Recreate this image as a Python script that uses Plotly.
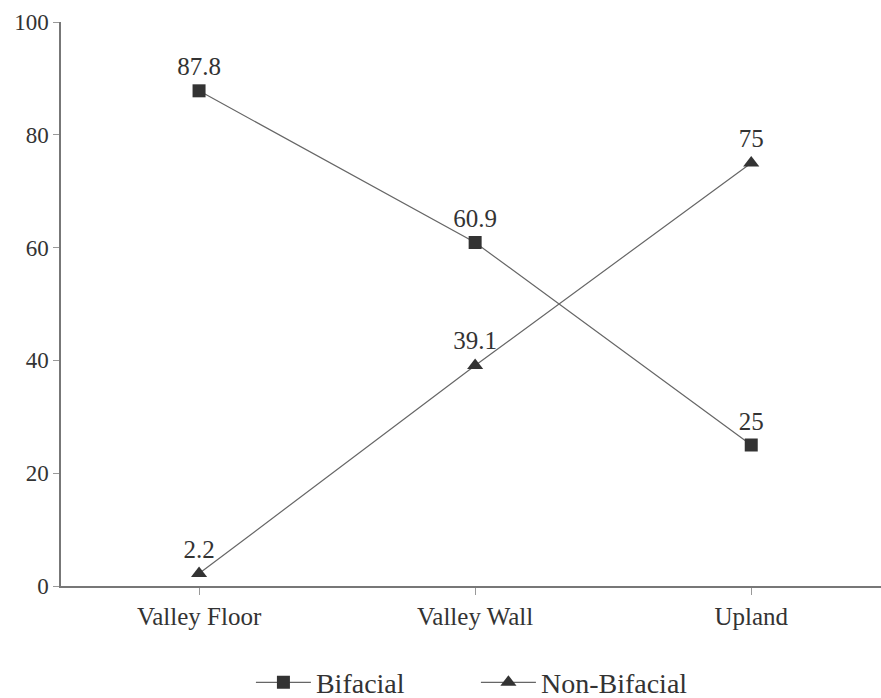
import plotly.graph_objects as go

categories = ["Valley Floor", "Valley Wall", "Upland"]
bifacial = [87.8, 60.9, 25]
non_bifacial = [2.2, 39.1, 75]
y_ticks = [0, 20, 40, 60, 80, 100]

SERIF = "Liberation Serif"
INK = "#333333"
LINE = "#666666"

fig = go.Figure()
fig.add_trace(go.Scatter(
    x=categories, y=bifacial, name="Bifacial",
    mode="lines+markers+text",
    text=[f"{v:g}" for v in bifacial], textposition="top center",
    textfont=dict(family=SERIF, size=25, color=INK),
    line=dict(color=LINE, width=1.2),
    marker=dict(symbol="square", size=13, color=INK),
))
fig.add_trace(go.Scatter(
    x=categories, y=non_bifacial, name="Non-Bifacial",
    mode="lines+markers+text",
    text=[f"{v:g}" for v in non_bifacial], textposition="top center",
    textfont=dict(family=SERIF, size=25, color=INK),
    line=dict(color=LINE, width=1.2),
    marker=dict(symbol="triangle-up", size=14, color=INK),
))

fig.update_layout(
    width=881, height=698,
    margin=dict(l=61, r=0, t=22, b=112, autoexpand=False),
    paper_bgcolor="white", plot_bgcolor="white",
    font=dict(family=SERIF, size=24, color=INK),
    showlegend=True,
    legend=dict(
        orientation="h", x=0.506, xanchor="center",
        yref="container", y=0.022, yanchor="middle",
        font=dict(family=SERIF, size=28, color=INK),
        itemwidth=55, traceorder="normal",
        entrywidth=155,
    ),
    xaxis=dict(
        type="category", range=[-0.5, 2.47],
        showline=True, linecolor="#777777", linewidth=1.5,
        ticks="outside", ticklen=7, tickcolor="#999999",
        showgrid=False, zeroline=False,
        tickfont=dict(family=SERIF, size=25, color=INK),
    ),
    yaxis=dict(
        range=[0, 100], tickvals=y_ticks,
        showline=True, linecolor="#777777", linewidth=1.5,
        ticks="outside", ticklen=6, tickcolor="#999999",
        showgrid=False, zeroline=False,
        tickfont=dict(family=SERIF, size=23, color=INK),
    ),
)

fig.write_html("out.html")
